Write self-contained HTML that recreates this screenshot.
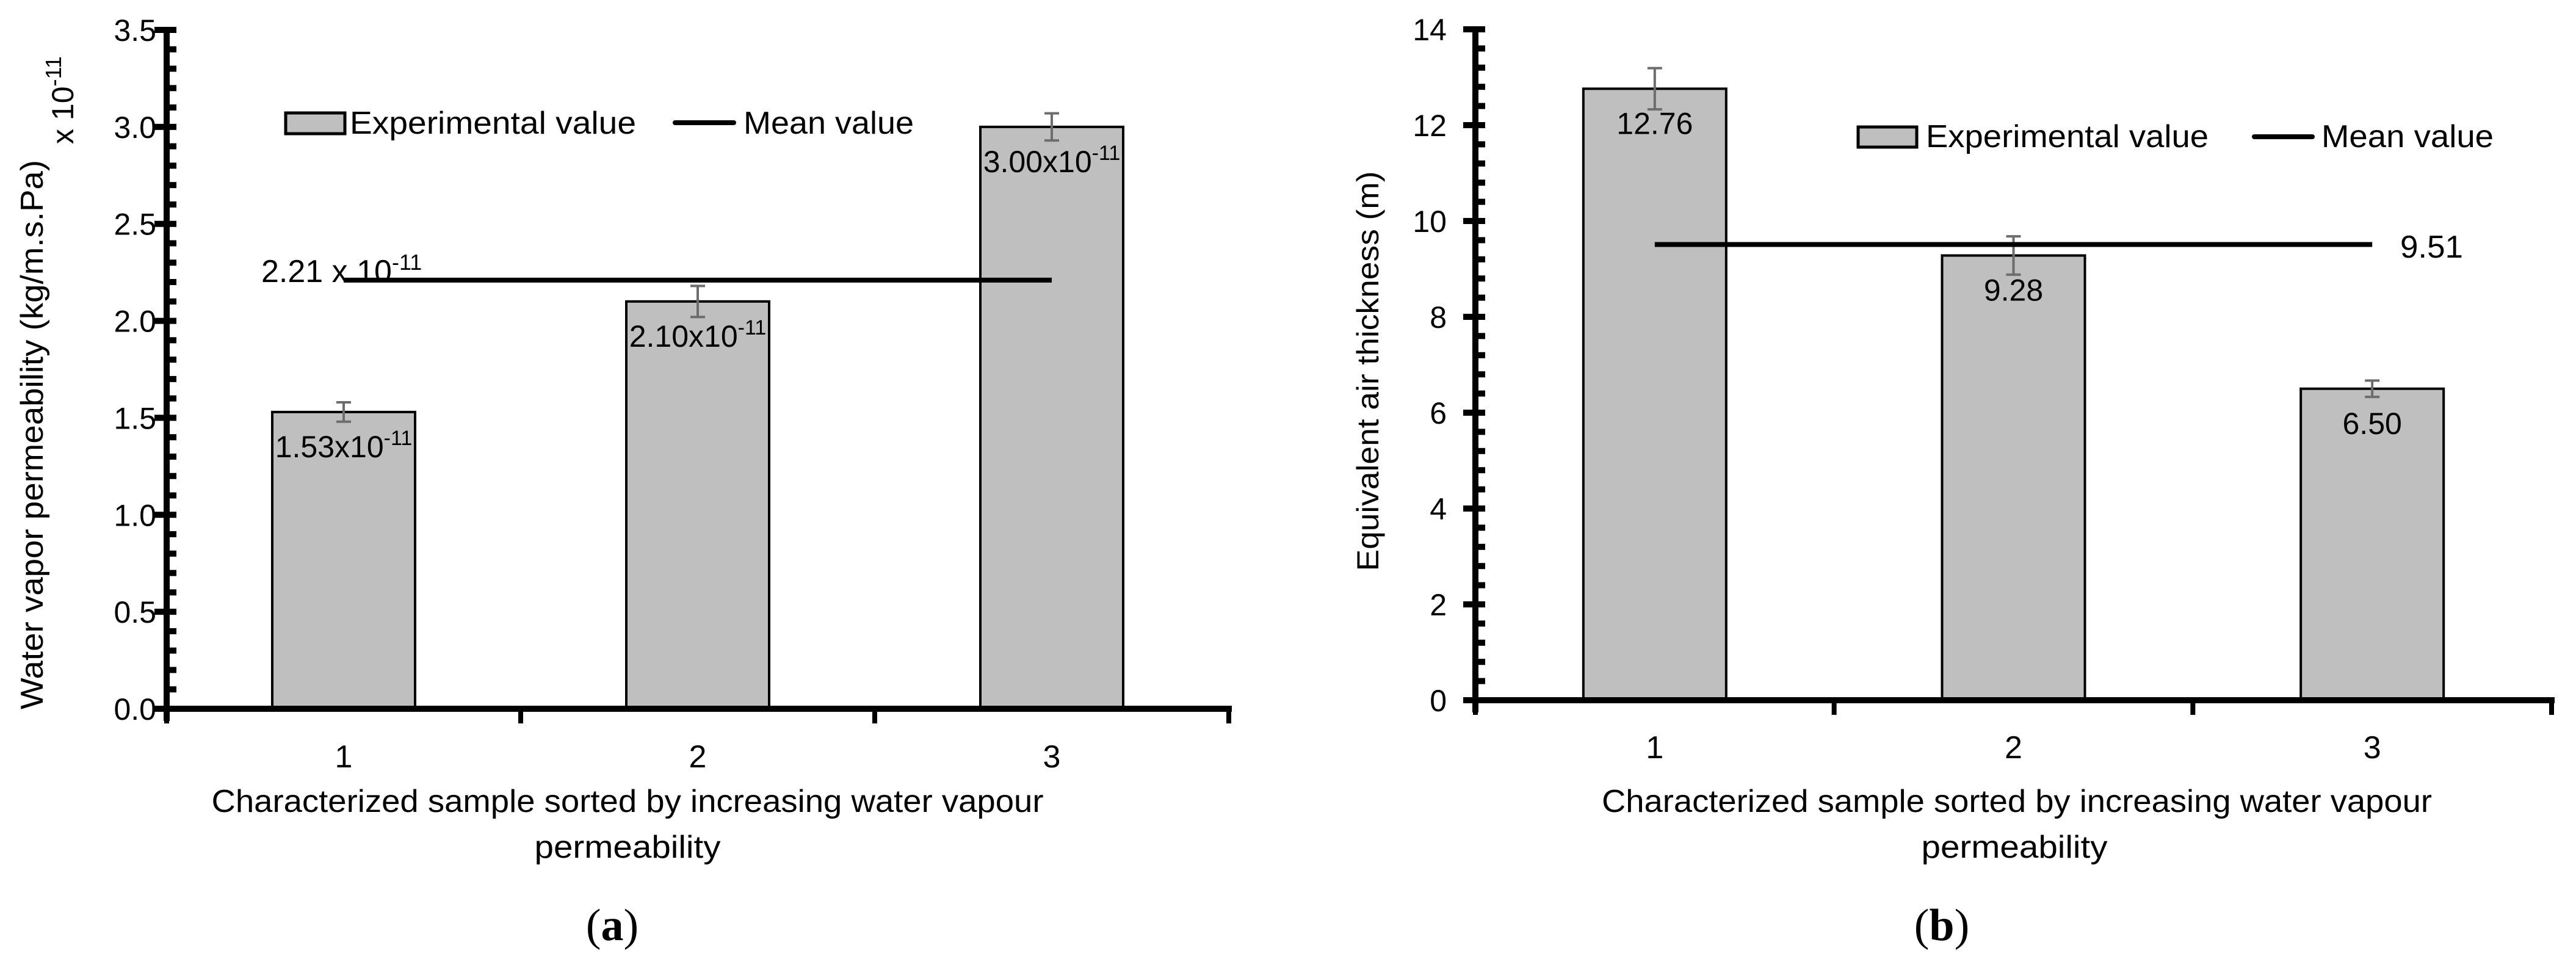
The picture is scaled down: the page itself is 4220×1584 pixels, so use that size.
<!DOCTYPE html>
<html><head><meta charset="utf-8"><style>
html,body{margin:0;padding:0;background:#fff}
svg{display:block}
text{font-family:"Liberation Sans",sans-serif;fill:#000}
</style></head><body>
<svg id="fig" width="4220" height="1584" viewBox="0 0 4220 1584" xmlns="http://www.w3.org/2000/svg">
<g id="ga"></g>
<g id="gb"></g>
</svg>
<script>
// Chart (a) data
const catsA = ["1","2","3"];
const valsA = [1.53, 2.10, 3.00];
const errsA = [0.05, 0.08, 0.07];
const labelsA = ["1.53x10", "2.10x10", "3.00x10"];
const meanA = [2.21];
const ticksA = ["0.0","0.5","1.0","1.5","2.0","2.5","3.0","3.5"];
const tickValsA = [0,0.5,1,1.5,2,2.5,3,3.5];
// Chart (b) data
const catsB = ["1","2","3"];
const valsB = [12.76, 9.28, 6.50];
const errsB = [0.43, 0.40, 0.17];
const labelsB = ["12.76","9.28","6.50"];
const meanB = [9.51];
const ticksB = ["0","2","4","6","8","10","12","14"];
const tickValsB = [0,2,4,6,8,10,12,14];

const NS="http://www.w3.org/2000/svg";
function mk(parent,tag,attrs,txt){const e=document.createElementNS(NS,tag);for(const k in attrs)e.setAttribute(k,attrs[k]);if(txt!==undefined)e.textContent=txt;parent.appendChild(e);return e;}

function draw(g,c,cats,vals,errs,labels,mean,ticks,tickVals){
  const ymax=tickVals[tickVals.length-1];
  const y=v=>c.y0-(v/ymax)*(c.y0-c.ytop);
  const cw=(c.xend-c.x0)/cats.length;
  const xc=i=>c.x0+cw*(i+0.5);
  cats.forEach((cat,i)=>{
    const r=mk(g,'rect',{x:xc(i)-117,y:y(vals[i]),width:234,height:c.y0-y(vals[i]),fill:'#bfbfbf',stroke:'#000','stroke-width':4});
    
    
    const eb=mk(g,'path',{d:`M${xc(i)} ${y(vals[i]+errs[i])}V${y(vals[i]-errs[i])}M${xc(i)-12} ${y(vals[i]+errs[i])}h24M${xc(i)-12} ${y(vals[i]-errs[i])}h24`,stroke:'#6d6d6d','stroke-width':4,fill:'none'});
    
    
    const t=mk(g,'text',{x:xc(i),y:y(vals[i])+74,'font-size':50,'text-anchor':'middle'});
    
    
    if(c.sup){t.textContent=labels[i];mk(t,'tspan',{dy:-20,'font-size':34},'-11');}
    else t.textContent=labels[i];
    const xl=mk(g,'text',{x:xc(i),y:c.xlabY,'font-size':52,'text-anchor':'middle'},cat);
    
    
  });
  const ml=mk(g,'line',{x1:xc(0),x2:xc(cats.length-1),y1:y(mean[0]),y2:y(mean[0]),stroke:'#000','stroke-width':8});
  
  
  const ax=mk(g,'g',{});
  
  
  mk(ax,'line',{x1:c.x0,x2:c.x0,y1:c.ytop-4,y2:c.y0+20,stroke:'#000','stroke-width':10});
  mk(ax,'line',{x1:c.x0-20,x2:c.xend+5,y1:c.y0,y2:c.y0,stroke:'#000','stroke-width':10});
  for(let i=0;i<=cats.length;i++){const xx=c.x0+cw*i;mk(ax,'line',{x1:xx,x2:xx,y1:c.y0,y2:c.y0+24,stroke:'#000','stroke-width':8});}
  const step=tickVals[1]-tickVals[0];
  for(let k=0;k<tickVals.length;k++){
    const yy=y(tickVals[k]);
    mk(ax,'line',{x1:c.x0-20,x2:c.x0+16,y1:yy,y2:yy,stroke:'#000','stroke-width':10});
    const tl=mk(g,'text',{x:c.tickX,y:yy+18,'font-size':50,'text-anchor':'end'},ticks[k]);
    
    
    if(k<tickVals.length-1){for(let m=1;m<5;m++){const ym=y(tickVals[k]+step*m/5);mk(ax,'line',{x1:c.x0,x2:c.x0+16,y1:ym,y2:ym,stroke:'#000','stroke-width':10});}}
  }
}
const ga=document.getElementById('ga'),gb=document.getElementById('gb');
draw(ga,{x0:273,xend:2013,y0:1161,ytop:49,xlabY:1257,tickX:256,sup:true},catsA,valsA,errsA,labelsA,meanA,ticksA,tickValsA);
draw(gb,{x0:2417,xend:4180,y0:1147,ytop:48,xlabY:1242,tickX:2370,sup:false},catsB,valsB,errsB,labelsB,meanB,ticksB,tickValsB);

const svg=document.getElementById('fig');
svg.insertAdjacentHTML('beforeend',`
<g>
<rect x="468" y="185" width="97" height="34" fill="#bfbfbf" stroke="#000" stroke-width="5"/>
<text x="573" y="219" font-size="52" textLength="469" lengthAdjust="spacingAndGlyphs">Experimental value</text>
<line x1="1106" x2="1202" y1="201" y2="201" stroke="#000" stroke-width="8" stroke-linecap="round"/>
<text x="1218" y="219" font-size="52" textLength="279" lengthAdjust="spacingAndGlyphs">Mean value</text>
</g>
<text x="428" y="462" font-size="52">2.21 x 10<tspan dy="-20" font-size="36">-11</tspan></text>
<text transform="translate(70,712) rotate(-90)" text-anchor="middle" font-size="52" textLength="900" lengthAdjust="spacingAndGlyphs">Water vapor permeability (kg/m.s.Pa)</text>
<text transform="translate(120,236) rotate(-90)" font-size="50">x 10<tspan dy="-20" font-size="36">-11</tspan></text>
<text x="1028" y="1330" text-anchor="middle" font-size="52" textLength="1363" lengthAdjust="spacingAndGlyphs">Characterized sample sorted by increasing water vapour</text>
<text x="1028" y="1405" text-anchor="middle" font-size="52" textLength="305" lengthAdjust="spacingAndGlyphs">permeability</text>
<text x="1003" y="1540" text-anchor="middle" font-size="74" style="font-family:'Liberation Serif',serif">(<tspan font-weight="bold">a</tspan>)</text>

<g>
<rect x="3044" y="208" width="96" height="33" fill="#bfbfbf" stroke="#000" stroke-width="5"/>
<text x="3155" y="241" font-size="52" textLength="463" lengthAdjust="spacingAndGlyphs">Experimental value</text>
<line x1="3693" x2="3788" y1="224" y2="224" stroke="#000" stroke-width="8" stroke-linecap="round"/>
<text x="3803" y="241" font-size="52" textLength="282" lengthAdjust="spacingAndGlyphs">Mean value</text>
</g>
<text x="3932" y="422" font-size="52" textLength="103" lengthAdjust="spacingAndGlyphs">9.51</text>
<text transform="translate(2258,608) rotate(-90)" text-anchor="middle" font-size="50" textLength="655" lengthAdjust="spacingAndGlyphs">Equivalent air thickness (m)</text>
<text x="3304" y="1330" text-anchor="middle" font-size="52" textLength="1360" lengthAdjust="spacingAndGlyphs">Characterized sample sorted by increasing water vapour</text>
<text x="3300" y="1405" text-anchor="middle" font-size="52" textLength="305" lengthAdjust="spacingAndGlyphs">permeability</text>
<text x="3181" y="1540" text-anchor="middle" font-size="74" style="font-family:'Liberation Serif',serif">(<tspan font-weight="bold">b</tspan>)</text>
`);
</script>
</body></html>
